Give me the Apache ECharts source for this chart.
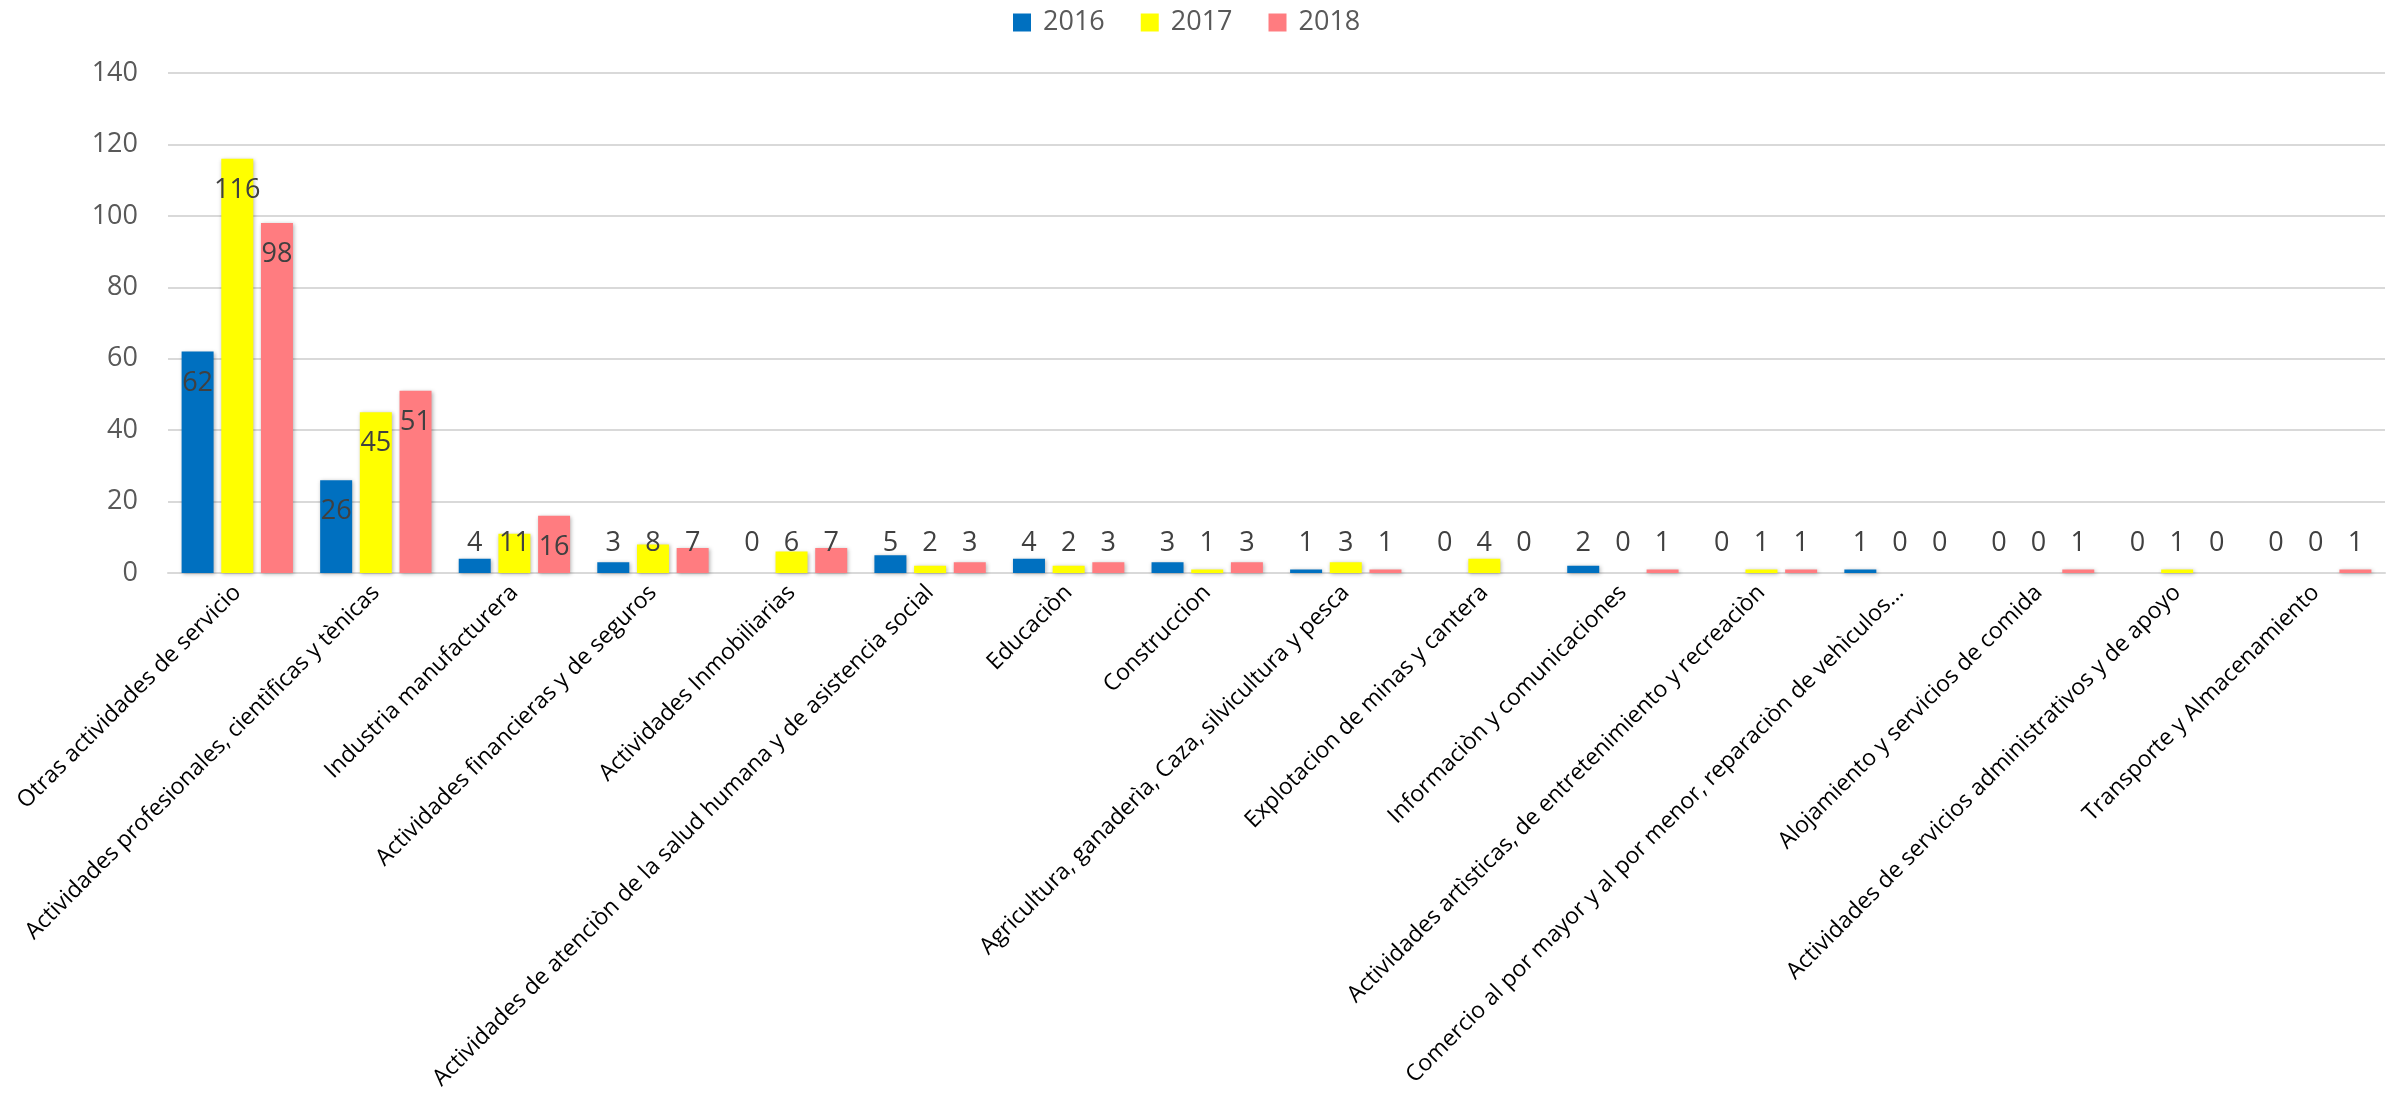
<!DOCTYPE html>
<html>
<head>
<meta charset="utf-8">
<script src="https://cdn.jsdelivr.net/npm/echarts@6/dist/echarts.min.js"></script>
<style>
html, body { margin: 0; padding: 0; background: #fff; }
#chart { width: 2394px; height: 1109px; }
</style>
</head>
<body>
<div id="chart"></div>
<script>
// categorias (eje x)
var categorias = [
    'Otras actividades de servicio',
    'Actividades profesionales, cientìficas y tènicas',
    'Industria manufacturera',
    'Actividades financieras y de seguros',
    'Actividades Inmobiliarias',
    'Actividades de atenciòn de la salud humana y de asistencia social',
    'Educaciòn',
    'Construccion',
    'Agricultura, ganaderìa, Caza, silvicultura y pesca',
    'Explotacion de minas y cantera',
    'Informaciòn y comunicaciones',
    'Actividades artìsticas, de entretenimiento y recreaciòn',
    'Comercio al por mayor y al por menor, reparaciòn de vehìculos…',
    'Alojamiento y servicios de comida',
    'Actividades de servicios administrativos y de apoyo',
    'Transporte y Almacenamiento'
];
var anios = ['2016', '2017', '2018'];
var datos2016 = [62, 26, 4, 3, 0, 5, 4, 3, 1, 0, 2, 0, 1, 0, 0, 0];
var datos2017 = [116, 45, 11, 8, 6, 2, 2, 1, 3, 4, 0, 1, 0, 0, 1, 0];
var datos2018 = [98, 51, 16, 7, 7, 3, 3, 3, 1, 0, 1, 1, 0, 1, 0, 1];
var colores = ['#0070C0', '#FFFF00', '#FF7C80'];

// etiqueta dentro de la barra si es alta, si no pegada abajo
function armarDatos(lista) {
    return lista.map(function (v) {
        if (v >= 16) {
            return { value: v, label: { position: 'insideTop', distance: 18 } };
        }
        return { value: v, label: { position: 'insideBottom', distance: 16 } };
    });
}

function serie(nombre, lista, color) {
    return {
        name: nombre,
        type: 'bar',
        data: armarDatos(lista),
        barWidth: 32,
        barGap: '24%',
        itemStyle: {
            color: color,
            shadowColor: 'rgba(0,0,0,0.3)',
            shadowBlur: 4,
            shadowOffsetX: 1,
            shadowOffsetY: 1
        },
        label: {
            show: true,
            color: '#404040',
            fontSize: 27,
            fontFamily: 'Open Sans'
        }
    };
}

var chart = echarts.init(document.getElementById('chart'));
var option = {
    animation: false,
    color: colores,
    legend: {
        data: anios,
        top: 4,
        left: 1008,
        itemWidth: 18,
        itemHeight: 18,
        itemGap: 36,
        icon: 'rect',
        textStyle: { fontSize: 27, color: '#595959', fontFamily: 'Open Sans', padding: [0, 0, 0, 7] }
    },
    grid: {
        left: 168,
        right: 9,
        top: 73,
        bottom: 536
    },
    xAxis: {
        type: 'category',
        data: categorias,
        axisLine: { lineStyle: { color: '#d9d9d9', width: 2 } },
        axisTick: { show: false },
        axisLabel: {
            interval: 0,
            rotate: 45,
            margin: 16,
            fontSize: 23,
            color: '#000',
            fontFamily: 'Open Sans'
        }
    },
    yAxis: {
        type: 'value',
        min: 0,
        max: 140,
        interval: 20,
        axisLine: { show: false },
        axisTick: { show: false },
        splitLine: { lineStyle: { color: '#d9d9d9', width: 2 } },
        axisLabel: {
            fontSize: 27,
            color: '#595959',
            margin: 30,
            fontFamily: 'Open Sans'
        }
    },
    series: [
        serie(anios[0], datos2016, colores[0]),
        serie(anios[1], datos2017, colores[1]),
        serie(anios[2], datos2018, colores[2])
    ]
};
chart.setOption(option);
</script>
</body>
</html>
